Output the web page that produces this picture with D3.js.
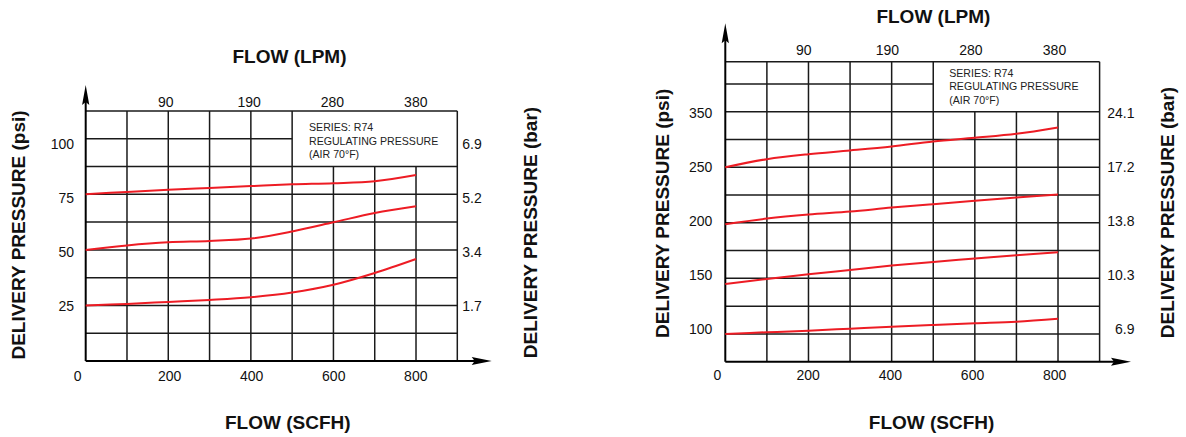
<!DOCTYPE html>
<html><head><meta charset="utf-8">
<script src="https://cdn.jsdelivr.net/npm/d3@7"></script>
<style>
html,body{margin:0;padding:0;background:#fff;}
svg{display:block;font-family:"Liberation Sans", Arial, sans-serif;}
</style></head><body>
<svg id="chart" width="1186" height="437"></svg>
<script>
// ---------- DATA ----------
const flowScfh = [0, 100, 200, 300, 400, 500, 600, 700, 800];
const scfhTicks = [0, 200, 400, 600, 800];
const lpmTickPos = [200, 400, 600, 800];
const lpmLabels = ["90", "190", "280", "380"];
const gridScfh = [100, 200, 300, 400, 500, 600, 700, 800];
const noteLines = ["SERIES: R74", "REGULATING PRESSURE", "(AIR 70\u00B0F)"];

// left chart
const leftPsiTicks = [25, 50, 75, 100];
const leftPsiLabels = ["25", "50", "75", "100"];
const leftBarLabels = ["1.7", "3.4", "5.2", "6.9"];
const leftGridPsi = [12.5, 25, 37.5, 50, 62.5, 75, 87.5, 100];
const left75 = [75, 76.1, 77.1, 77.9, 78.7, 79.5, 80.0, 80.9, 83.7];
const left50 = [50, 52.0, 53.4, 54.0, 55.1, 58.3, 62.4, 66.6, 69.6];
const left25 = [25, 25.7, 26.6, 27.5, 28.7, 30.8, 34.3, 39.6, 45.9];

// right chart
const rightPsiTicks = [100, 150, 200, 250, 300];
const rightPsiLabels = ["100", "150", "200", "250", "350"];
const rightBarLabels = ["6.9", "10.3", "13.8", "17.2", "24.1"];
const rightGridPsi = [100, 125, 150, 175, 200, 225, 250, 275, 300, 325];
const right250 = [250, 257.3, 261.8, 265.1, 268.7, 273.2, 276.5, 280.1, 285.8];
const right200 = [198.8, 203.8, 207.4, 210.1, 213.7, 216.8, 219.8, 222.7, 225.5];
const right150 = [145.0, 149.5, 153.7, 157.6, 161.5, 164.8, 167.8, 170.9, 173.6];
const right100 = [100, 101.5, 102.9, 104.7, 106.5, 108.1, 109.6, 111.0, 113.7];

// ---------- LAYOUT ----------
const svg = d3.select("#chart");
const RED = "#ed1c24";

const charts = [
  {
    xRange: [85.7, 457.3], yDomain: [0, 112.5], yRange: [361, 111],
    gridPsi: leftGridPsi, boxScfh: 500, boxPsi: 87.5,
    psiTicks: leftPsiTicks, psiLabels: leftPsiLabels, barLabels: leftBarLabels,
    labelYRange: [306, 144.3], psiLabelX: 74, barLabelX: 481.7,
    topLabelRange: [165.8, 415.8], botLabelRange: [169.7, 415.8],
    topLabelY: 106.5, botLabelY: 381,
    yArrowTip: 85, xArrowTip: 491.7,
    titleTop: {x: 289.5, y: 62.7}, titleBot: {x: 287.8, y: 428.5},
    titleLeftX: 25.3, titleRightX: 536.9, titleLeftY: 235, titleRightY: 232.5,
    noteX: 309, noteBaseY: 131,
    series: [left75, left50, left25]
  },
  {
    xRange: [725.3, 1099.6], yDomain: [75, 345], yRange: [361.7, 61.7],
    gridPsi: rightGridPsi, boxScfh: 500, boxPsi: 300,
    psiTicks: rightPsiTicks, psiLabels: rightPsiLabels, barLabels: rightBarLabels,
    labelYRange: [329.3, 113.3], psiLabelX: 712.4, barLabelX: 1134.5,
    topLabelRange: [803.8, 1054.5], botLabelRange: [808.2, 1054.7],
    topLabelY: 55.3, botLabelY: 380,
    yArrowTip: 23.3, xArrowTip: 1131,
    titleTop: {x: 933.4, y: 22.7}, titleBot: {x: 931.6, y: 429},
    titleLeftX: 669.3, titleRightX: 1174.2, titleLeftY: 213.3, titleRightY: 212.5,
    noteX: 949.2, noteBaseY: 76.7,
    series: [right250, right200, right150, right100]
  }
];

function drawChart(c) {
  const x = d3.scaleLinear().domain([0, 900]).range(c.xRange);
  const y = d3.scaleLinear().domain(c.yDomain).range(c.yRange);
  const yMin = c.yDomain[0], yMax = c.yDomain[1];
  const g = svg.append("g");

  // grid vertical
  g.selectAll("line.gv").data(gridScfh).enter().append("line")
    .attr("x1", d => x(d)).attr("x2", d => x(d))
    .attr("y1", y(yMin))
    .attr("y2", d => d > c.boxScfh ? y(c.boxPsi) : y(yMax))
    .attr("stroke", "#1a1a1a").attr("stroke-width", 1.5);
  // grid horizontal
  g.selectAll("line.gh").data(c.gridPsi).enter().append("line")
    .attr("x1", x(0))
    .attr("x2", d => d > c.boxPsi ? x(c.boxScfh) : x(900))
    .attr("y1", d => y(d)).attr("y2", d => y(d))
    .attr("stroke", "#1a1a1a").attr("stroke-width", 1.5);
  // top and right border
  g.append("line").attr("x1", x(0)).attr("x2", x(900)).attr("y1", y(yMax)).attr("y2", y(yMax))
    .attr("stroke", "#1a1a1a").attr("stroke-width", 1.5);
  g.append("line").attr("x1", x(900)).attr("x2", x(900)).attr("y1", y(yMin)).attr("y2", y(yMax))
    .attr("stroke", "#1a1a1a").attr("stroke-width", 1.5);

  // axes with arrows
  const x0 = x(0), yb = y(yMin);
  g.append("line").attr("x1", x0).attr("x2", x0).attr("y1", yb).attr("y2", c.yArrowTip + 15)
    .attr("stroke", "#000").attr("stroke-width", 2);
  g.append("path").attr("d", `M${x0},${c.yArrowTip} L${x0 - 3.6},${c.yArrowTip + 20} L${x0},${c.yArrowTip + 17} L${x0 + 3.6},${c.yArrowTip + 20} Z`)
    .attr("fill", "#000");
  g.append("line").attr("x1", x0).attr("x2", c.xArrowTip - 15).attr("y1", yb).attr("y2", yb)
    .attr("stroke", "#000").attr("stroke-width", 2);
  g.append("path").attr("d", `M${c.xArrowTip},${yb} L${c.xArrowTip - 20},${yb - 4} L${c.xArrowTip - 17},${yb} L${c.xArrowTip - 20},${yb + 4} Z`)
    .attr("fill", "#000");

  // curves
  const line = d3.line().x((d, i) => x(flowScfh[i])).y(d => y(d)).curve(d3.curveCatmullRom.alpha(0.5));
  g.selectAll("path.s").data(c.series).enter().append("path")
    .attr("d", d => line(d)).attr("fill", "none")
    .attr("stroke", RED).attr("stroke-width", 2);

  // y labels
  const ly = d3.scaleLinear().domain([c.psiTicks[0], c.psiTicks[c.psiTicks.length - 1]]).range(c.labelYRange);
  g.selectAll("text.psi").data(c.psiTicks).enter().append("text")
    .attr("x", c.psiLabelX).attr("y", d => ly(d)).attr("dy", "0.36em")
    .attr("text-anchor", "end").attr("font-size", 14).attr("fill", "#111")
    .text((d, i) => c.psiLabels[i]);
  g.selectAll("text.bar").data(c.psiTicks).enter().append("text")
    .attr("x", c.barLabelX).attr("y", d => ly(d)).attr("dy", "0.36em")
    .attr("text-anchor", "end").attr("font-size", 14).attr("fill", "#111")
    .text((d, i) => c.barLabels[i]);

  // top LPM labels
  const lt = d3.scaleLinear().domain([200, 800]).range(c.topLabelRange);
  g.selectAll("text.lpm").data(lpmTickPos).enter().append("text")
    .attr("x", d => lt(d)).attr("y", c.topLabelY)
    .attr("text-anchor", "middle").attr("font-size", 14).attr("fill", "#111")
    .text((d, i) => lpmLabels[i]);
  // bottom SCFH labels
  const lb = d3.scaleLinear().domain([200, 800]).range(c.botLabelRange);
  g.selectAll("text.scfh").data(scfhTicks).enter().append("text")
    .attr("x", d => d === 0 ? x(0) - 8 : lb(d)).attr("y", c.botLabelY)
    .attr("text-anchor", "middle").attr("font-size", 14).attr("fill", "#111")
    .text(d => d);

  // titles
  g.append("text").attr("x", c.titleTop.x).attr("y", c.titleTop.y)
    .attr("text-anchor", "middle").attr("font-size", 19).attr("font-weight", "bold").attr("fill", "#111")
    .text("FLOW (LPM)");
  g.append("text").attr("x", c.titleBot.x).attr("y", c.titleBot.y)
    .attr("text-anchor", "middle").attr("font-size", 19).attr("font-weight", "bold").attr("fill", "#111")
    .text("FLOW (SCFH)");
  g.append("text").attr("transform", `translate(${c.titleLeftX},${c.titleLeftY}) rotate(-90)`)
    .attr("text-anchor", "middle").attr("font-size", 19).attr("font-weight", "bold").attr("fill", "#111")
    .text("DELIVERY PRESSURE (psi)");
  g.append("text").attr("transform", `translate(${c.titleRightX},${c.titleRightY}) rotate(-90)`)
    .attr("text-anchor", "middle").attr("font-size", 19).attr("font-weight", "bold").attr("fill", "#111")
    .text("DELIVERY PRESSURE (bar)");

  // note
  g.selectAll("text.note").data(noteLines).enter().append("text")
    .attr("x", c.noteX).attr("y", (d, i) => c.noteBaseY + i * 13.5)
    .attr("font-size", 10.6).attr("fill", "#222")
    .text(d => d);
}

charts.forEach(drawChart);
</script>
</body></html>
